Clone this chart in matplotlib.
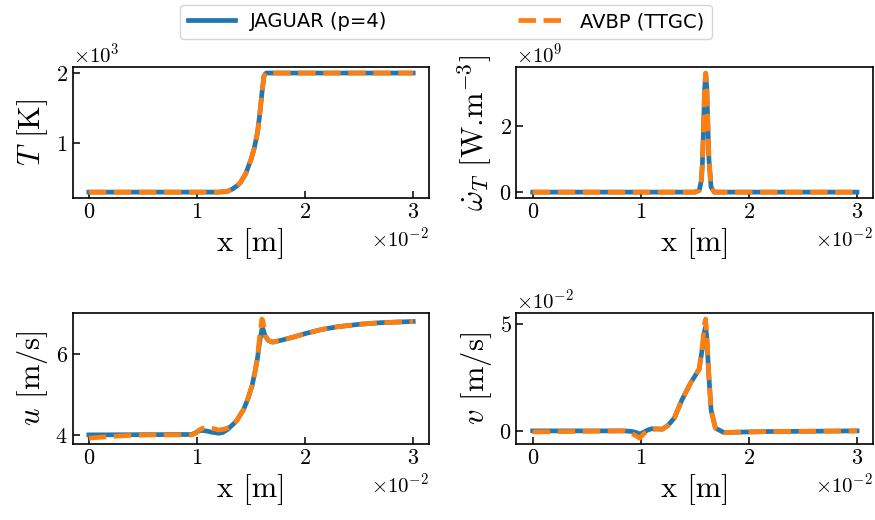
import matplotlib
matplotlib.use("Agg")
from matplotlib import pyplot as plt

plt.rcParams["font.family"] = "serif"
plt.rcParams["font.serif"] = ["cmr10"]
plt.rcParams["mathtext.fontset"] = "cm"
plt.rcParams["axes.formatter.use_mathtext"] = True
plt.rcParams["axes.unicode_minus"] = True
plt.rcParams["axes.linewidth"] = 1.2

# temperature
x_T = [0, 0.0120, 0.0128, 0.0133, 0.0137, 0.0140, 0.0145, 0.0150, 0.0153,
       0.0156, 0.0158, 0.0160, 0.0162, 0.0164, 0.0300]
T_jag = [300, 300, 310, 345, 390, 432, 560, 766, 930,
         1150, 1400, 1700, 1960, 2000, 2000]
T_avbp = [300, 300, 310, 345, 390, 432, 560, 766, 930,
          1150, 1400, 1700, 1960, 2000, 2000]

# heat release
x_w = [0, 0.0150, 0.0154, 0.0156, 0.0157, 0.0158, 0.0159, 0.0160, 0.0161,
       0.0162, 0.0163, 0.0165, 0.0168, 0.0300]
w_jag = [0, 0, 0.05e9, 0.35e9, 0.9e9, 1.9e9, 3.1e9, 3.6e9, 3.2e9,
         2.1e9, 1.0e9, 0.15e9, 0, 0]
w_avbp = [0, 0, 0.05e9, 0.35e9, 0.9e9, 1.9e9, 3.1e9, 3.62e9, 3.2e9,
          2.1e9, 1.0e9, 0.15e9, 0, 0]

# axial velocity
x_u_jag = [0, 0.0095, 0.0098, 0.0101, 0.0104, 0.0108, 0.0113, 0.0120, 0.0124,
           0.0128, 0.0133, 0.0137, 0.0143, 0.0147, 0.0151, 0.0154, 0.0156,
           0.0158, 0.0160, 0.0161, 0.0163, 0.0166, 0.0170, 0.0177, 0.0190,
           0.0200, 0.0215, 0.0230, 0.0250, 0.0270, 0.0300]
u_jag = [4.00, 4.01, 4.04, 4.09, 4.11, 4.10, 4.07, 4.04, 4.06,
         4.13, 4.25, 4.36, 4.62, 4.88, 5.22, 5.60, 5.90,
         6.30, 6.60, 6.62, 6.45, 6.33, 6.29, 6.33, 6.42,
         6.50, 6.60, 6.67, 6.73, 6.77, 6.80]
x_u_avbp = [0, 0.002, 0.004, 0.006, 0.0095, 0.0099, 0.0102, 0.0106, 0.0110,
            0.0116, 0.0120, 0.0125, 0.0130, 0.0134, 0.0137, 0.0143, 0.0147,
            0.0151, 0.0154, 0.0156, 0.0158, 0.0160, 0.0161, 0.0163, 0.0166,
            0.0170, 0.0177, 0.0190, 0.0200, 0.0215, 0.0230, 0.0250, 0.0270,
            0.0300]
u_avbp = [3.92, 3.96, 3.99, 4.00, 4.00, 4.04, 4.12, 4.17, 4.17,
          4.15, 4.12, 4.14, 4.19, 4.27, 4.36, 4.62, 4.88,
          5.22, 5.60, 5.90, 6.45, 6.86, 6.82, 6.45, 6.33,
          6.29, 6.33, 6.42, 6.50, 6.60, 6.67, 6.73, 6.77,
          6.80]

# transverse velocity
x_v_jag = [0, 0.0085, 0.0092, 0.0096, 0.0099, 0.0102, 0.0106, 0.0110, 0.0115,
           0.0120, 0.0125, 0.0131, 0.0138, 0.0146, 0.0154, 0.0157, 0.0159,
           0.0160, 0.0161, 0.0163, 0.0165, 0.0169, 0.0177, 0.0188, 0.0220,
           0.0300]
v_jag = [0, 0, -0.0003, -0.0008, -0.0015, -0.0008, 0.0003, 0.0010, 0.0009,
         0.0008, 0.0025, 0.006, 0.0145, 0.0224, 0.0290, 0.0390, 0.0470,
         0.0489, 0.0440, 0.0254, 0.0098, 0.0013, -0.0008, -0.0006, -0.0003,
         0]
x_v_avbp = [0, 0.0085, 0.0090, 0.0094, 0.0099, 0.0103, 0.0106, 0.0110, 0.0114,
            0.0120, 0.0125, 0.0131, 0.0138, 0.0146, 0.0154, 0.0157, 0.0159,
            0.0160, 0.0161, 0.0163, 0.0165, 0.0169, 0.0177, 0.0188, 0.0220,
            0.0300]
v_avbp = [-0.0005, 0, -0.0008, -0.0019, -0.0034, -0.0012, -0.0003, 0.0005, 0.0009,
          0.0008, 0.0025, 0.006, 0.0145, 0.0224, 0.0290, 0.0400, 0.0505,
          0.0525, 0.0450, 0.0254, 0.0098, 0.0013, -0.0008, -0.0006, -0.0003,
          0]

panels = [
    (x_T, T_jag, x_T, T_avbp, r"$T$ [K]", [1000, 2000]),
    (x_w, w_jag, x_w, w_avbp, r"$\dot{\omega}_T$ [W.m$^{-3}$]", [0, 2e9]),
    (x_u_jag, u_jag, x_u_avbp, u_avbp, r"$u$ [m/s]", [4, 6]),
    (x_v_jag, v_jag, x_v_avbp, v_avbp, r"$v$ [m/s]", [0, 0.05]),
]

fig, axs = plt.subplots(2, 2, figsize=(8.75, 5.2), dpi=100)
fig.subplots_adjust(left=0.083, right=0.998, top=0.871, bottom=0.146,
                    wspace=0.244, hspace=0.878)

for ax, (xj, jag, xa, avbp, ylab, yt) in zip(axs.flat, panels):
    ax.plot(xj, jag, color="tab:blue", lw=3.4, label="JAGUAR (p=4)")
    ax.plot(xa, avbp, color="tab:orange", lw=3.4, ls="--", label="AVBP (TTGC)")
    ax.set_xticks([0, 0.01, 0.02, 0.03])
    ax.set_yticks(yt)
    ax.ticklabel_format(style="sci", axis="both", scilimits=(0, 0))
    ax.tick_params(direction="in", length=5, width=1.1, labelsize=16)
    ax.xaxis.get_offset_text().set_fontsize(15)
    ax.yaxis.get_offset_text().set_fontsize(15)
    ax.set_xlabel("x [m]", fontsize=22)
    ax.set_ylabel(ylab, fontsize=22)

h, l = axs[0, 0].get_legend_handles_labels()
fig.legend(h, l, loc="upper center", bbox_to_anchor=(0.51, 1.01), ncol=2,
           prop={"family": "DejaVu Sans", "size": 14}, handlelength=2.4,
           columnspacing=6.7)

fig.savefig("out.png", dpi=100)
